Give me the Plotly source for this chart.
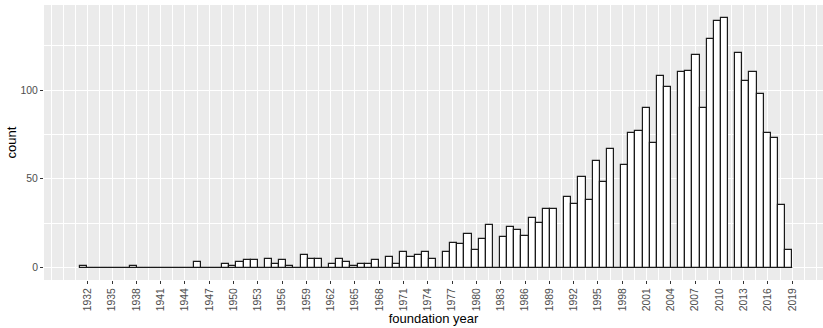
import numpy as np
import plotly.graph_objects as go

# Histogram bins (ggplot-style, 100 bins over the year range)
bin_start = 1931.0
bin_width = 0.88
counts = [
    1, 0, 0, 0, 0, 0, 0, 1, 0, 0,
    0, 0, 0, 0, 0, 0, 3, 0, 0, 0,
    2, 1, 3, 4, 4, 0, 5, 2, 4, 1,
    0, 7, 5, 5, 0, 2, 5, 3, 1, 2,
    2, 4, 0, 6, 2, 9, 6, 7, 9, 5,
    0, 9, 14, 13, 19, 10, 16, 24, 0, 17,
    23, 21, 18, 28, 25, 33, 33, 0, 40, 36,
    51, 38, 60, 48, 67, 0, 58, 76, 77, 90,
    70, 108, 102, 0, 110, 111, 120, 90, 129, 139,
    141, 0, 121, 105, 110, 98, 76, 73, 35, 10,
]
x_tick_years = list(range(1932, 2020, 3))
y_tick_values = [0, 50, 100]

n_bins = len(counts)
centers = bin_start + bin_width * (np.arange(n_bins) + 0.5)
bin_end = bin_start + bin_width * n_bins

FONT = "Liberation Sans, Arial, sans-serif"

fig = go.Figure()
# zero-count bins still show their outline along the baseline
fig.add_trace(go.Scatter(
    x=[bin_start, bin_end], y=[0, 0], mode="lines",
    line=dict(color="#1a1a1a", width=1.2), hoverinfo="skip", showlegend=False,
))
fig.add_trace(go.Bar(
    x=centers, y=counts, width=bin_width,
    marker=dict(color="white", line=dict(color="#1a1a1a", width=1.2)),
    showlegend=False,
))

fig.update_layout(
    width=823, height=328,
    margin=dict(l=44, r=0, t=4.5, b=47.5),
    plot_bgcolor="#EBEBEB", paper_bgcolor="white",
    font=dict(family=FONT),
    bargap=0,
    xaxis=dict(
        range=[1926.6, 2022.8],
        tickmode="array", tickvals=x_tick_years,
        ticktext=[str(v) for v in x_tick_years],
        tickangle=-90,
        ticks="outside", ticklen=3, tickwidth=1, tickcolor="#333333",
        tickfont=dict(size=10.4, color="#4D4D4D", family=FONT),
        showgrid=True, gridcolor="white", gridwidth=1.2,
        minor=dict(tickmode="linear", tick0=1932, dtick=1.5, showgrid=True,
                   gridcolor="white", gridwidth=0.6, ticks=""),
        zeroline=False, showline=False,
        title=dict(text="foundation year", font=dict(size=13, color="black", family=FONT),
                   standoff=2),
    ),
    yaxis=dict(
        range=[-7.05, 148.05],
        tickmode="array", tickvals=y_tick_values,
        ticks="outside", ticklen=3, tickwidth=1, tickcolor="#333333",
        tickfont=dict(size=10.4, color="#4D4D4D", family=FONT),
        showgrid=True, gridcolor="white", gridwidth=1.2,
        minor=dict(tickmode="linear", tick0=0, dtick=25, showgrid=True,
                   gridcolor="white", gridwidth=0.6, ticks=""),
        zeroline=False, showline=False,
        title=dict(text="count", font=dict(size=13, color="black", family=FONT),
                   standoff=1),
    ),
)

fig.write_html(
    "out.html",
    config={"displayModeBar": False},
    post_script="document.body.style.margin='0';document.body.style.padding='0';",
)
